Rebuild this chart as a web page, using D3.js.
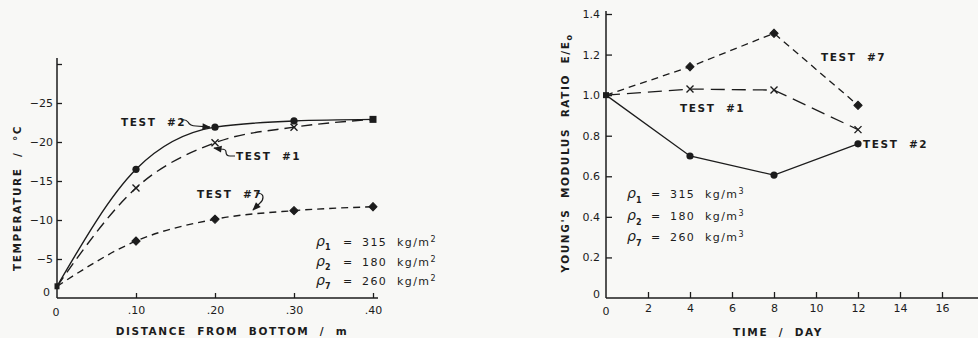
<!DOCTYPE html>
<html>
<head>
<meta charset="utf-8">
<script src="https://cdn.jsdelivr.net/npm/d3@7"></script>
<style>
  body { margin: 0; background: #f8f8f6; }
  svg { display: block; }
  text { font-family: "DejaVu Sans", sans-serif; fill: #1c1c1c; }
</style>
</head>
<body>
<div class="chart"></div>
<script>
// left panel: temperature vs distance
const distance = [0, 0.1, 0.2, 0.3, 0.4];
const temp1 = [-1.5, -14.1, -19.9, -21.9, -22.9];
const temp2 = [-1.5, -16.5, -21.9, -22.7, -22.9];
const temp7 = [-1.5, -7.3, -10.1, -11.2, -11.7];
const tempTicks = [0, -5, -10, -15, -20, -25, -30];
const distTicks = [0, 0.1, 0.2, 0.3, 0.4];

// right panel: modulus ratio vs time
const days = [0, 4, 8, 12];
const ratio1 = [1.0, 1.03, 1.025, 0.83];
const ratio2 = [1.0, 0.70, 0.606, 0.76];
const ratio7 = [1.0, 1.14, 1.305, 0.95];
const ratioTicks = [0, 0.2, 0.4, 0.6, 0.8, 1.0, 1.2, 1.4];
const dayTicks = [0, 2, 4, 6, 8, 10, 12, 14, 16];

const densities = [["1", "315"], ["2", "180"], ["7", "260"]];

const width = 978, height = 338;
const ink = "#1c1c1c";

const svg = d3.select("div.chart").append("svg")
  .attr("width", width).attr("height", height);

svg.append("defs").append("marker")
  .attr("id", "arrow").attr("viewBox", "0 0 10 10")
  .attr("refX", 9).attr("refY", 5)
  .attr("markerWidth", 9).attr("markerHeight", 7)
  .attr("orient", "auto")
  .append("path").attr("d", "M0,1 L10,5 L0,9 Z").attr("fill", ink);

function styleAxis(g) {
  g.select(".domain").remove();
  g.selectAll(".tick line").attr("stroke", ink).attr("stroke-width", 1.3);
  g.selectAll(".tick text").attr("font-size", 11).attr("fill", ink).style("font-family", "DejaVu Sans, sans-serif");
}

function marks(g, pts, kind) {
  if (kind === "x") {
    g.selectAll(null).data(pts).enter().append("path")
      .attr("d", d => `M${d[0]-3.5},${d[1]-3.5}L${d[0]+3.5},${d[1]+3.5}M${d[0]-3.5},${d[1]+3.5}L${d[0]+3.5},${d[1]-3.5}`)
      .attr("stroke", ink).attr("stroke-width", 1.4);
  } else if (kind === "diamond") {
    g.selectAll(null).data(pts).enter().append("path")
      .attr("d", d3.symbol(d3.symbolSquare, 34))
      .attr("transform", d => `translate(${d[0]},${d[1]}) rotate(45)`)
      .attr("fill", ink).attr("stroke", ink).attr("stroke-width", 1).attr("stroke-linejoin", "round");
  } else {
    g.selectAll(null).data(pts).enter().append("circle")
      .attr("cx", d => d[0]).attr("cy", d => d[1]).attr("r", 3.6)
      .attr("fill", ink);
  }
}

function label(g, x, y, txt, anchor) {
  return g.append("text").attr("x", x).attr("y", y).attr("text-anchor", anchor || "start")
    .attr("font-size", 10.5).attr("letter-spacing", 1.6).attr("font-weight", "bold").attr("fill", ink)
    .attr("xml:space", "preserve").text(txt);
}

// ---------- left panel ----------
const xL = d3.scaleLinear().domain([0, 0.4]).range([57, 373]);
const yL = d3.scaleLinear().domain([0, -30]).range([298, 64]);
const left = svg.append("g");

left.append("line").attr("x1", xL(0)).attr("x2", xL(0)).attr("y1", yL(0)).attr("y2", 58)
  .attr("stroke", ink).attr("stroke-width", 1.5);
left.append("line").attr("x1", xL(0)).attr("x2", 378).attr("y1", yL(0)).attr("y2", yL(0))
  .attr("stroke", ink).attr("stroke-width", 1.5);

left.append("g").attr("transform", `translate(${xL(0)},0)`)
  .call(d3.axisLeft(yL).tickValues(tempTicks.slice(1)).tickSizeInner(-5).tickSizeOuter(0).tickPadding(4)
    .tickFormat(d => d === -30 ? "" : d3.format("d")(d)))
  .call(styleAxis);
left.append("g").attr("transform", `translate(0,${yL(0)})`)
  .call(d3.axisBottom(xL).tickValues(distTicks.slice(1)).tickSizeInner(-5).tickSizeOuter(0).tickPadding(8)
    .tickFormat(d => d3.format(".2f")(d).replace(/^0/, "")))
  .call(styleAxis);
left.append("text").attr("x", 50).attr("y", 296).attr("text-anchor", "end").attr("font-size", 11).text("0");
left.append("text").attr("x", 56).attr("y", 316).attr("text-anchor", "middle").attr("font-size", 11).text("0");

const lineL = d3.line().x((d, i) => xL(distance[i])).y(d => yL(d)).curve(d3.curveMonotoneX);
left.append("path").attr("d", lineL(temp2)).attr("fill", "none").attr("stroke", ink).attr("stroke-width", 1.4);
left.append("path").attr("d", lineL(temp1)).attr("fill", "none").attr("stroke", ink).attr("stroke-width", 1.4)
  .attr("stroke-dasharray", "11,6");
left.append("path").attr("d", lineL(temp7)).attr("fill", "none").attr("stroke", ink).attr("stroke-width", 1.4)
  .attr("stroke-dasharray", "7,5");

const pL = arr => arr.map((v, i) => [xL(distance[i]), yL(v)]);
marks(left, pL(temp2).slice(1, 4), "circle");
marks(left, pL(temp1).slice(1, 4), "x");
marks(left, pL(temp7).slice(1), "diamond");
left.append("rect").attr("x", xL(0.4) - 3.5).attr("y", yL(temp2[4]) - 3.5).attr("width", 7).attr("height", 7).attr("fill", ink);
left.append("rect").attr("x", xL(0) - 2.5).attr("y", yL(temp2[0]) - 3).attr("width", 5).attr("height", 6).attr("fill", ink);

label(left, 121, 126, "TEST  #2");
left.append("path").attr("d", `M181,120 Q186,119 188,122 Q190,126 196,126 L${xL(0.2) - 5},${yL(temp2[2])}`)
  .attr("fill", "none").attr("stroke", ink).attr("stroke-width", 1.2).attr("marker-end", "url(#arrow)");
label(left, 236, 160, "TEST  #1");
left.append("path").attr("d", `M235,156 L230,156 Q226,156 226,152 Q226,149 221,149 L${xL(0.2) - 1},148`)
  .attr("fill", "none").attr("stroke", ink).attr("stroke-width", 1.2).attr("marker-end", "url(#arrow)");
label(left, 197, 198, "TEST  #7");
left.append("path").attr("d", `M256,193 Q263,193 263,197 Q263,201 260,203 L253,210`)
  .attr("fill", "none").attr("stroke", ink).attr("stroke-width", 1.2).attr("marker-end", "url(#arrow)");

densities.forEach((d, i) => {
  const y = 246 + i * 19.5;
  const t = left.append("text").attr("x", 316).attr("y", y).attr("font-size", 11).attr("xml:space", "preserve");
  t.append("tspan").attr("font-style", "italic").attr("font-size", 14).text("ρ");
  t.append("tspan").attr("dy", 4).attr("font-size", 8).attr("font-weight", "bold").text(d[0]);
  t.append("tspan").attr("x", 343).attr("dy", -4).attr("letter-spacing", 1.4).text("=");
  t.append("tspan").attr("x", 362).attr("letter-spacing", 1.4).text(d[1] + "  kg/m");
  t.append("tspan").attr("dy", -4).attr("font-size", 8).text("2");
});

label(left, 232, 335, "DISTANCE  FROM  BOTTOM  /  m", "middle");
label(left, 0, 0, "TEMPERATURE  /  °C", "middle").attr("transform", "translate(21,198) rotate(-90)");

// ---------- right panel ----------
const xR = d3.scaleLinear().domain([0, 16]).range([606, 942]);
const yR = d3.scaleLinear().domain([0, 1.4]).range([298, 14]);
const right = svg.append("g");

right.append("line").attr("x1", xR(0)).attr("x2", xR(0)).attr("y1", yR(0)).attr("y2", 11)
  .attr("stroke", ink).attr("stroke-width", 1.5);
right.append("line").attr("x1", xR(0)).attr("x2", width).attr("y1", yR(0)).attr("y2", yR(0))
  .attr("stroke", ink).attr("stroke-width", 1.5);

right.append("g").attr("transform", `translate(${xR(0)},0)`)
  .call(d3.axisLeft(yR).tickValues(ratioTicks.slice(1)).tickSizeInner(-6).tickSizeOuter(0).tickPadding(6)
    .tickFormat(d3.format(".1f")))
  .call(styleAxis);
right.append("g").attr("transform", `translate(0,${yR(0)})`)
  .call(d3.axisBottom(xR).tickValues(dayTicks.slice(1)).tickSizeInner(-6).tickSizeOuter(0).tickPadding(6))
  .call(styleAxis);
right.append("text").attr("x", 600).attr("y", 298).attr("text-anchor", "end").attr("font-size", 11).text("0");
right.append("text").attr("x", 606).attr("y", 315).attr("text-anchor", "middle").attr("font-size", 11).text("0");

const lineR = d3.line().x((d, i) => xR(days[i])).y(d => yR(d));
right.append("path").attr("d", lineR(ratio2)).attr("fill", "none").attr("stroke", ink).attr("stroke-width", 1.3);
right.append("path").attr("d", lineR(ratio1)).attr("fill", "none").attr("stroke", ink).attr("stroke-width", 1.3)
  .attr("stroke-dasharray", "14,7");
right.append("path").attr("d", lineR(ratio7)).attr("fill", "none").attr("stroke", ink).attr("stroke-width", 1.3)
  .attr("stroke-dasharray", "7,5");

const pR = arr => arr.map((v, i) => [xR(days[i]), yR(v)]);
marks(right, pR(ratio2).slice(1), "circle");
marks(right, pR(ratio7).slice(1), "diamond");
marks(right, pR(ratio1).slice(1), "x");
right.append("rect").attr("x", xR(0) - 3).attr("y", yR(1) - 3).attr("width", 6).attr("height", 6).attr("fill", ink);

label(right, 821, 61, "TEST  #7");
label(right, 680, 112, "TEST  #1");
label(right, 863, 148, "TEST  #2");

densities.forEach((d, i) => {
  const y = 198 + i * 21.5;
  const t = right.append("text").attr("x", 627).attr("y", y).attr("font-size", 11).attr("xml:space", "preserve");
  t.append("tspan").attr("font-style", "italic").attr("font-size", 14).text("ρ");
  t.append("tspan").attr("dy", 5).attr("font-size", 8).attr("font-weight", "bold").text(d[0]);
  t.append("tspan").attr("x", 651).attr("dy", -5).attr("letter-spacing", 1.4).text("=");
  t.append("tspan").attr("x", 670).attr("letter-spacing", 1.4).text(d[1] + "  kg/m");
  t.append("tspan").attr("dy", -4).attr("font-size", 8).text("3");
});

label(right, 778, 336, "TIME  /  DAY", "middle");
const yt = label(right, 0, 0, "YOUNG'S  MODULUS  RATIO  E/E", "middle").attr("transform", "translate(569,153) rotate(-90)");
yt.append("tspan").attr("dy", 3).attr("font-size", 8).text("o");
</script>
</body>
</html>
